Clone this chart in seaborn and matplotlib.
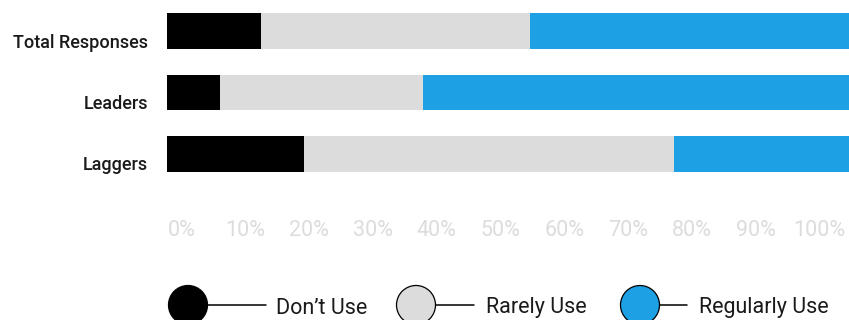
import matplotlib
matplotlib.use("Agg")
import matplotlib.pyplot as plt
from matplotlib.patches import Circle
from matplotlib.transforms import blended_transform_factory, offset_copy
import numpy as np
import pandas as pd
import seaborn as sns

# Share of respondents per usage level (percent)
groups = ["Total Responses", "Leaders", "Laggers"]
dont_use = [13.8, 7.8, 20.1]
rarely_use = [39.4, 29.8, 54.2]
regularly_use = [46.8, 62.4, 25.7]

levels = ["Don’t Use", "Rarely Use", "Regularly Use"]
colors = ["#000000", "#dcdcdc", "#1ea0e5"]
tick_labels = [f"{v}%" for v in range(0, 101, 10)]

sns.set_theme(style="white")
plt.rcParams["font.family"] = ["Roboto", "DejaVu Sans"]

W, H = 849, 320
fig = plt.figure(figsize=(W / 100, H / 100), dpi=100)

# Bar axes: spans from the left of the bars to the right edge
ax = fig.add_axes([167 / W, 1 - 185 / H, 1 - 167 / W, 185 / H])

df = pd.DataFrame({
    "group": groups,
    "dont": dont_use,
    "rarely": rarely_use,
    "regularly": regularly_use,
})
df["c1"] = df["dont"]
df["c2"] = df["dont"] + df["rarely"]
df["c3"] = df["c2"] + df["regularly"]

# Stack by overdrawing cumulative totals, widest first
for col, color in zip(["c3", "c2", "c1"], colors[::-1]):
    sns.barplot(data=df, x=col, y="group", orient="h", color=color,
                saturation=1, width=0.59, ax=ax, linewidth=0)

ax.set_xlim(0, 100)
ax.set_ylim(2.516, -0.516)
ax.set_xlabel("")
ax.set_ylabel("")
for s in ax.spines.values():
    s.set_visible(False)

# Percentage scale spread evenly under the bars
ax.set_xticks(np.linspace(2.1, 95.7, 11))
ax.set_xticklabels(tick_labels)
ax.tick_params(axis="x", length=0, pad=25, labelsize=15.5, labelcolor="#dcdcdc")

# Group labels sit near the bottom edge of each bar
ax.set_yticks([])
trans = blended_transform_factory(fig.transFigure, ax.transData)
trans = offset_copy(trans, fig=fig, x=0, y=-12, units="points")
for i, g in enumerate(groups):
    ax.text(148 / W, i, g, transform=trans, ha="right", va="baseline",
            fontsize=13, fontweight="medium", color="#1a1a1a")

# Legend: circle swatch, connector line and label
lax = fig.add_axes([0, 0, 1, 1])
lax.set_xlim(0, W)
lax.set_ylim(H, 0)
lax.axis("off")
legend_spec = [(188, 266, 276), (416, 474, 486), (640, 687, 699)]
for (cx, lx, tx), lab, col in zip(legend_spec, levels, colors):
    lax.plot([cx + 20, lx], [304.5, 304.5], color="#000000", lw=1.1)
    lax.add_patch(Circle((cx, 305), 19.5, facecolor=col, edgecolor="#000000",
                         lw=0.9))
    lax.text(tx, 313.5, lab, ha="left", va="baseline", fontsize=15.5,
             color="#1a1a1a")

fig.savefig("out.png", dpi=100)
